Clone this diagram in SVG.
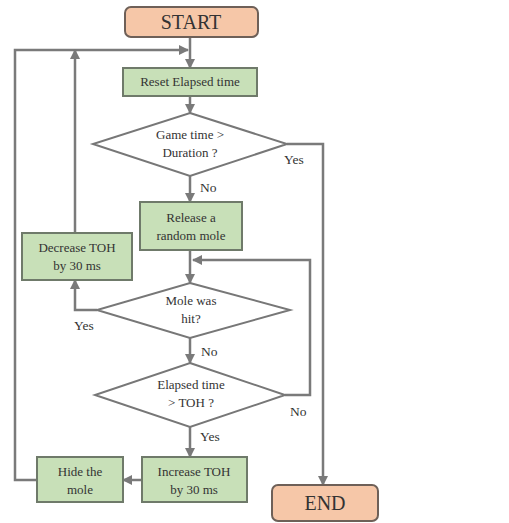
<svg xmlns="http://www.w3.org/2000/svg" width="509" height="523" viewBox="0 0 509 523" font-family="'Liberation Serif', 'Times New Roman', 'DejaVu Serif', serif">
<style>
.term{fill:#f6c7a8;stroke:#6e6058;stroke-width:2}
.proc{fill:#c8e0b8;stroke:#6f7a6a;stroke-width:2}
.dec{fill:#ffffff;stroke:#777;stroke-width:2}
.ln{fill:none;stroke:#7a7a7a;stroke-width:2.5}
text{font-family:'Liberation Serif','Times New Roman','DejaVu Serif',serif;fill:#333;text-anchor:middle}
.big{font-size:20px}
.t{font-size:13px}
.lbl{font-size:13.5px;text-anchor:start}
</style>
<defs>
<marker id="ah" viewBox="0 0 10 10" refX="9" refY="5" markerWidth="4" markerHeight="4" orient="auto">
<path d="M0,0 L10,5 L0,10 z" fill="#7a7a7a"/>
</marker>
</defs>
<rect width="509" height="523" fill="#fff"/>
<g id="connectors">
<path class="ln" d="M190,37 V68" marker-end="url(#ah)"/>
<path class="ln" d="M37,480 H15 V50 H188" marker-end="url(#ah)"/>
<path class="ln" d="M75,233 V50" marker-end="url(#ah)"/>
<path class="ln" d="M190,96 V113" marker-end="url(#ah)"/>
<path class="ln" d="M287,144 H323 V485" marker-end="url(#ah)"/>
<path class="ln" d="M190,176 V202" marker-end="url(#ah)"/>
<path class="ln" d="M190,250 V283" marker-end="url(#ah)"/>
<path class="ln" d="M97,310 H75 V280" marker-end="url(#ah)"/>
<path class="ln" d="M190,338 V363" marker-end="url(#ah)"/>
<path class="ln" d="M285,395 H310 V260 H193" marker-end="url(#ah)"/>
<path class="ln" d="M190,427 V457" marker-end="url(#ah)"/>
<path class="ln" d="M142,480 H123" marker-end="url(#ah)"/>
<text class="lbl" x="284" y="164">Yes</text>
<text class="lbl" x="200" y="192">No</text>
<text class="lbl" x="74" y="330">Yes</text>
<text class="lbl" x="201" y="356">No</text>
<text class="lbl" x="290" y="416">No</text>
<text class="lbl" x="200" y="441">Yes</text>
</g>
<g id="start">
<rect class="term" x="125" y="7" width="133" height="30" rx="6"/>
<text class="big" x="191" y="29">START</text>
</g>
<g id="reset">
<rect class="proc" x="123" y="68" width="134" height="28"/>
<text class="t" x="190" y="86">Reset Elapsed time</text>
</g>
<g id="gametime">
<polygon class="dec" points="190,113 287,144 190,176 93,144"/>
<text class="t" x="190" y="139">Game time &gt;</text>
<text class="t" x="190" y="157">Duration ?</text>
</g>
<g id="release">
<rect class="proc" x="140" y="202" width="102" height="48"/>
<text class="t" x="191" y="222">Release a</text>
<text class="t" x="191" y="240">random mole</text>
</g>
<g id="decrease">
<rect class="proc" x="22" y="233" width="110" height="47"/>
<text class="t" x="77" y="252">Decrease TOH</text>
<text class="t" x="77" y="270">by 30 ms</text>
</g>
<g id="molehit">
<polygon class="dec" points="190,283 290,310 190,338 97,310"/>
<text class="t" x="191" y="305">Mole was</text>
<text class="t" x="191" y="323">hit?</text>
</g>
<g id="elapsed">
<polygon class="dec" points="190,363 285,395 190,427 95,395"/>
<text class="t" x="191" y="389">Elapsed time</text>
<text class="t" x="191" y="407">&gt; TOH ?</text>
</g>
<g id="increase">
<rect class="proc" x="142" y="457" width="105" height="45"/>
<text class="t" x="194" y="476">Increase TOH</text>
<text class="t" x="194" y="494">by 30 ms</text>
</g>
<g id="hide">
<rect class="proc" x="37" y="457" width="86" height="45"/>
<text class="t" x="80" y="476">Hide the</text>
<text class="t" x="80" y="494">mole</text>
</g>
<g id="end">
<rect class="term" x="272" y="485" width="106" height="36" rx="6"/>
<text class="big" x="325" y="510">END</text>
</g>
</svg>
